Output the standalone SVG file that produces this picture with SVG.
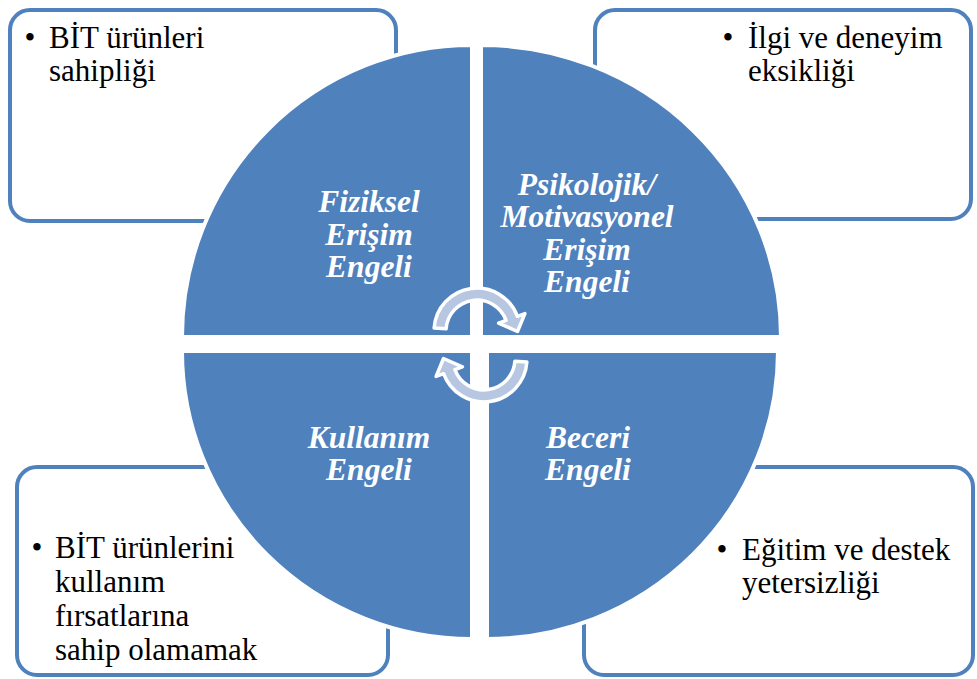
<svg xmlns="http://www.w3.org/2000/svg" width="977" height="679" viewBox="0 0 977 679">
<style>
.box{fill:#fff;stroke:#4F81BD;stroke-width:4}
.q{fill:#4F81BD;stroke:#fff;stroke-width:4}
.lbl{font-family:'Liberation Serif',serif;font-size:31.5px;font-weight:bold;font-style:italic;fill:#fff;text-anchor:middle}
.body{font-family:'Liberation Serif',serif;font-size:31px;fill:#000}
.bul{font-family:'Liberation Serif',serif;font-size:31px;fill:#000;text-anchor:middle}
.arr{fill:#B8C7E1;stroke:#fff;stroke-width:3.5;stroke-linejoin:round}
</style>
<rect width="977" height="679" fill="#fff"/>
<g id="box-tl"><rect class="box" x="10" y="10" width="386" height="211" rx="20"/>
<text class="bul" x="30" y="48">•</text><text class="body" x="49" y="48">BİT ürünleri</text><text class="body" x="49" y="81">sahipliği</text></g>
<g id="box-tr"><rect class="box" x="595" y="10" width="376" height="209" rx="20"/>
<text class="bul" x="728" y="48">•</text><text class="body" x="748" y="48">İlgi ve deneyim</text><text class="body" x="748" y="81">eksikliği</text></g>
<g id="box-bl"><rect class="box" x="17" y="467" width="371" height="208" rx="20"/>
<text class="bul" x="37" y="558">•</text><text class="body" x="55" y="558">BİT ürünlerini</text><text class="body" x="55" y="592">kullanım</text><text class="body" x="55" y="626">fırsatlarına</text><text class="body" x="55" y="660">sahip olamamak</text></g>
<g id="box-br"><rect class="box" x="584" y="467" width="389" height="208" rx="20"/>
<text class="bul" x="722" y="560">•</text><text class="body" x="742" y="560">Eğitim ve destek</text><text class="body" x="742" y="593">yetersizliği</text></g>
<g id="q-tl"><path class="q" d="M472,337 L182,337 A290 292 0 0 1 472,45 Z"/>
<text class="lbl" x="369" y="212">Fiziksel</text><text class="lbl" x="369" y="245">Erişim</text><text class="lbl" x="369" y="277">Engeli</text></g>
<g id="q-tr"><path class="q" d="M481,337 L481,45 A300 292 0 0 1 781,337 Z"/>
<text class="lbl" x="587" y="195">Psikolojik/</text><text class="lbl" x="587" y="227">Motivasyonel</text><text class="lbl" x="587" y="260">Erişim</text><text class="lbl" x="587" y="292">Engeli</text></g>
<g id="q-bl"><path class="q" d="M472,351 L472,639 A290 288 0 0 1 182,351 Z"/>
<text class="lbl" x="369" y="448">Kullanım</text><text class="lbl" x="369" y="480">Engeli</text></g>
<g id="q-br"><path class="q" d="M487,351 L778,351 A291 288 0 0 1 487,639 Z"/>
<text class="lbl" x="588" y="448">Beceri</text><text class="lbl" x="588" y="480">Engeli</text></g>
<g id="connectors">
<path id="arrow-top" class="arr" d="M434.1,328 A43 43 0 0 1 517.4,316.3 L524.9,313.6 L517.5,331.5 L498.6,323.1 L506.1,320.4 A31 31 0 0 0 446.1,328.8 Z"/>
<path id="arrow-bottom" class="arr" transform="rotate(180 480.5 345)" d="M434.1,328 A43 43 0 0 1 517.4,316.3 L524.9,313.6 L517.5,331.5 L498.6,323.1 L506.1,320.4 A31 31 0 0 0 446.1,328.8 Z"/>
</g>
</svg>
